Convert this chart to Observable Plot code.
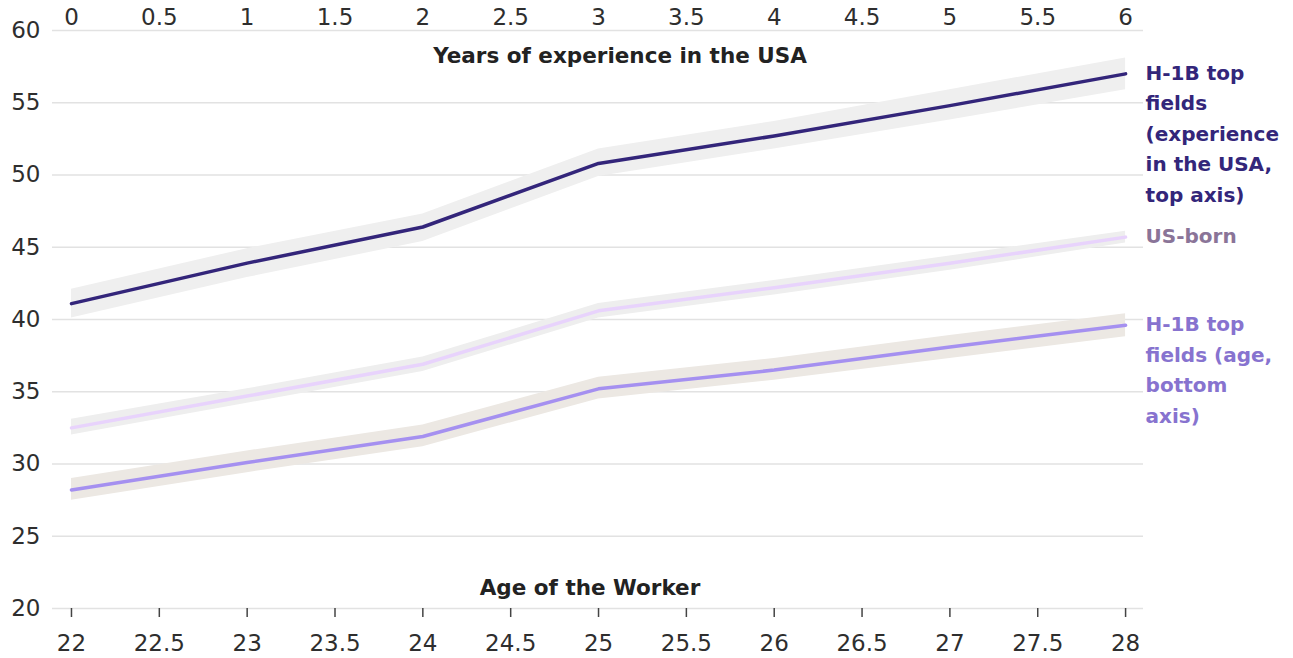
<!DOCTYPE html>
<html>
<head>
<meta charset="utf-8">
<script src="https://cdn.jsdelivr.net/npm/d3@7"></script>
<script src="https://cdn.jsdelivr.net/npm/@observablehq/plot@0.6"></script>
<style>
  body { margin: 0; background: #fff; }
</style>
</head>
<body>
<div id="chart"></div>
<script>
// Worker age (bottom axis) and years of experience in the USA (top axis)
const ages = [22, 23, 24, 25, 26, 27, 28];
const years = [0, 1, 2, 3, 4, 5, 6];

// H-1B top fields, by years of experience in the USA
const h1bExp   = [41.1, 43.9, 46.4, 50.8, 52.7, 54.8, 57.0];
const h1bExpLo = [40.1, 42.9, 45.4, 49.9, 51.8, 53.8, 55.9];
const h1bExpHi = [42.1, 44.9, 47.3, 51.8, 53.7, 55.9, 58.1];

// US-born workers, by age
const usBorn   = [32.5, 34.7, 36.9, 40.6, 42.2, 43.9, 45.7];
const usBornLo = [32.0, 34.2, 36.4, 40.1, 41.7, 43.4, 45.3];
const usBornHi = [33.1, 35.2, 37.4, 41.1, 42.7, 44.4, 46.1];

// H-1B top fields, by age
const h1bAge   = [28.2, 30.1, 31.9, 35.2, 36.5, 38.1, 39.6];
const h1bAgeLo = [27.5, 29.4, 31.2, 34.5, 35.8, 37.3, 38.8];
const h1bAgeHi = [29.0, 30.9, 32.7, 36.0, 37.3, 38.9, 40.4];

// Axis ticks
const yTicks = [20, 25, 30, 35, 40, 45, 50, 55, 60];
const ageTicks = [22, 22.5, 23, 23.5, 24, 24.5, 25, 25.5, 26, 26.5, 27, 27.5, 28];
const yearTicks = [0, 0.5, 1, 1.5, 2, 2.5, 3, 3.5, 4, 4.5, 5, 5.5, 6];

// Series labels
const labels = [
  "H-1B top\nfields\n(experience\nin the USA,\ntop axis)",
  "US-born",
  "H-1B top\nfields (age,\nbottom\naxis)"
];

// The top axis starts where the bottom axis starts: year 0 sits on age 22
const AGE0 = ages[0];

const series = [
  {name: labels[0], xs: years.map(d => d + AGE0), y: h1bExp, lo: h1bExpLo, hi: h1bExpHi,
   line: "#33257a", band: "#efefef", text: "#33267a"},
  {name: labels[1], xs: ages, y: usBorn, lo: usBornLo, hi: usBornHi,
   line: "#e8d3fc", band: "#eeeeee", text: "#8a7498"},
  {name: labels[2], xs: ages, y: h1bAge, lo: h1bAgeLo, hi: h1bAgeHi,
   line: "#a590f0", band: "#ece8e3", text: "#8773cf"}
];

const rows = series.flatMap(s => s.xs.map((x, i) => ({
  name: s.name, x, y: s.y[i], lo: s.lo[i], hi: s.hi[i], line: s.line, band: s.band
})));
const ends = series.map(s => ({
  name: s.name, x: s.xs[s.xs.length - 1], y: s.y[s.y.length - 1], color: s.text
}));

const chart = Plot.plot({
  width: 1293,
  height: 658,
  marginLeft: 52,
  marginRight: 150,
  marginTop: 30,
  marginBottom: 50,
  style: {fontFamily: "'DejaVu Sans', sans-serif", color: "#333", background: "#fff"},
  x: {domain: [21.892, 28.102]},
  y: {domain: [20, 60]},
  marks: [
    Plot.gridY(yTicks, {stroke: "#e2e2e2", strokeWidth: 1.5, strokeOpacity: 1}),
    Plot.axisY(yTicks, {tickSize: 0, tickPadding: 12, fontSize: 23, label: null, fill: "#2e2e2e"}),
    Plot.axisX(ageTicks, {anchor: "bottom", tickSize: 9, tickPadding: 17, fontSize: 23,
      label: null, stroke: "#444", strokeWidth: 1.5, fill: "#2e2e2e", tickFormat: d => String(d)}),
    Plot.axisX(yearTicks.map(d => d + AGE0), {anchor: "top", tickSize: 0, tickPadding: 6,
      fontSize: 23, label: null, fill: "#2e2e2e", tickFormat: d => String(d - AGE0)}),
    Plot.text(["Years of experience in the USA"], {frameAnchor: "top", dx: 22, dy: 26,
      lineAnchor: "middle", fontSize: 21.5, fontWeight: "bold", fill: "#222"}),
    Plot.text(["Age of the Worker"], {frameAnchor: "bottom", dx: -8, dy: -20,
      lineAnchor: "middle", fontSize: 21.5, fontWeight: "bold", fill: "#222"}),
    Plot.areaY(rows, {x: "x", y1: "lo", y2: "hi", z: "name", fill: d => d.band}),
    Plot.line(rows, {x: "x", y: "y", z: "name", stroke: d => d.line,
      strokeWidth: 3.5, strokeLinecap: "round", strokeLinejoin: "round"}),
    Plot.text(ends, {x: "x", y: "y", text: "name", fill: "color", dx: 20, dy: -16,
      textAnchor: "start", lineAnchor: "top", lineHeight: 1.53, fontSize: 20, fontWeight: "bold"})
  ]
});

document.getElementById("chart").appendChild(chart);
</script>
</body>
</html>
